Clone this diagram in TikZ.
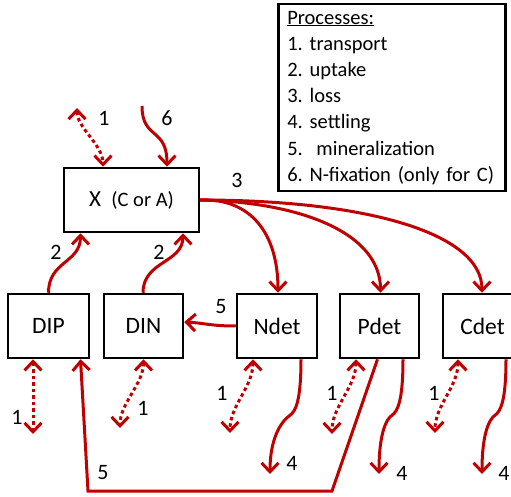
\documentclass[tikz,border=0pt]{standalone}
\usepackage{fontspec}
\setmainfont{Carlito}
\usetikzlibrary{arrows.meta}
\definecolor{flowred}{RGB}{192,0,0}
\frenchspacing

\begin{document}
\begin{tikzpicture}[x=1pt,y=-1pt,box/.style={draw,line width=2.5pt,minimum width=80pt,minimum height=64pt,inner sep=0pt,font=\fontsize{23.5}{28}\selectfont},flow/.style={draw=flowred,line width=3pt,-{Straight Barb[length=9pt,width=17pt]}},transport/.style={flow,dash pattern=on 3.5pt off 3pt,{Straight Barb[length=9pt,width=17pt]}-{Straight Barb[length=9pt,width=17pt]}},num/.style={inner sep=0pt,font=\fontsize{22}{26}\selectfont}]
    \useasboundingbox (0,0) rectangle (511,497);
    \node[draw,line width=2.5pt,anchor=north west,minimum width=227pt,minimum height=187pt,text width=209pt,inner xsep=9pt,align=left,font=\fontsize{20.5}{26.2}\selectfont] (legend) at (277,3) {\underline{Processes:}\\1. transport\\2. uptake\\3. loss\\4. settling\\5.\ \ mineralization\\6. N-fixation (only for C)};
    \node[box,minimum width=135pt] (x) at (131.5,200) {\fontsize{23}{28}\selectfont X\ \ {\fontsize{20.5}{24}\selectfont(C or A)}};
    \node[box,minimum width=81pt] (dip) at (48.5,326) {DIP};
    \node[box,minimum width=79pt] (din) at (143.5,326) {DIN};
    \node[box] (ndet) at (277,326) {Ndet};
    \node[box,minimum width=79pt] (pdet) at (379.5,326) {Pdet};
    \node[box,minimum width=79pt] (cdet) at (482.5,326) {Cdet};
    \coordinate (x1) at (77,108);
    \coordinate (x6) at (142,106);
    \coordinate (dip1) at (33,434);
    \coordinate (din1) at (120,428);
    \coordinate (ndet1) at (230,433);
    \coordinate (pdet1) at (332,434);
    \coordinate (cdet1) at (435,433);
    \coordinate (ndet4) at (270,474);
    \coordinate (pdet4) at (379,474);
    \coordinate (cdet4) at (482,474);
    \coordinate (p5) at (332,491);
    \coordinate (q5) at (88,491);
    \draw[transport] (x1) .. controls +(0,20) and +(0,-22) .. ([xshift=-28.5pt]x.north);
    \draw[flow] (x6) .. controls +(0,34) and +(0,-40) .. ([xshift=35.5pt]x.north);
    \draw[flow] (dip.north) .. controls +(0,-32) and +(0,30) .. ([xshift=-51pt]x.south);
    \draw[flow] ([xshift=-0.5pt]din.north) .. controls +(0,-32) and +(0,30) .. ([xshift=51.5pt]x.south);
    \draw[flow] (x.east) .. controls +(50,-2) and +(0,-60) .. ([xshift=1pt]ndet.north);
    \draw[flow] (x.east) .. controls +(100,2) and +(0,-60) .. ([xshift=1pt]pdet.north);
    \draw[flow] (x.east) .. controls +(165,0) and +(0,-60) .. ([xshift=-0.5pt]cdet.north);
    \draw[flow] (ndet.west) .. controls +(-25,0) and +(20,1) .. ([yshift=4pt]din.east);
    \draw[flow] ([xshift=-2pt]pdet.south) -- (p5) -- (q5) -- ([xshift=32pt]dip.south);
    \draw[transport] ([xshift=-15.5pt]dip.south) -- (dip1);
    \draw[transport] (din.south) .. controls +(0,25) and +(0,-25) .. (din1);
    \draw[transport] ([xshift=-24pt]ndet.south) .. controls +(0,28) and +(0,-28) .. (ndet1);
    \draw[transport] ([xshift=-23.5pt]pdet.south) .. controls +(0,28) and +(0,-28) .. (pdet1);
    \draw[transport] ([xshift=-24.5pt]cdet.south) .. controls +(0,28) and +(0,-28) .. (cdet1);
    \draw[flow] ([xshift=24pt]ndet.south) .. controls +(0,40) and +(6,-4) .. ++(-11,56) .. controls +(-6,4) and +(0,-40) .. (ndet4);
    \draw[flow] ([xshift=23.5pt]pdet.south) .. controls +(0,40) and +(6,-4) .. ++(-11,56) .. controls +(-6,4) and +(0,-40) .. (pdet4);
    \draw[flow] ([xshift=23.5pt]cdet.south) .. controls +(0,40) and +(6,-4) .. ++(-11,56) .. controls +(-6,4) and +(0,-40) .. (cdet4);
    \node[num] (lab1x) at (104,118) {1};
    \node[num] (lab6) at (167,118) {6};
    \node[num] (lab3) at (237,180) {3};
    \node[num] (lab2p) at (56,252) {2};
    \node[num] (lab2n) at (159,252) {2};
    \node[num] (lab5n) at (221,307) {5};
    \node[num] (lab5p) at (103,473) {5};
    \node[num] (lab1p) at (17,417) {1};
    \node[num] (lab1n) at (143,408) {1};
    \node[num] (lab1nd) at (222,393) {1};
    \node[num] (lab1pd) at (332,393) {1};
    \node[num] (lab1cd) at (434,393) {1};
    \node[num] (lab4nd) at (292,463) {4};
    \node[num] (lab4pd) at (402,473) {4};
    \node[num] (lab4cd) at (504,473) {4};
\end{tikzpicture}
\end{document}
